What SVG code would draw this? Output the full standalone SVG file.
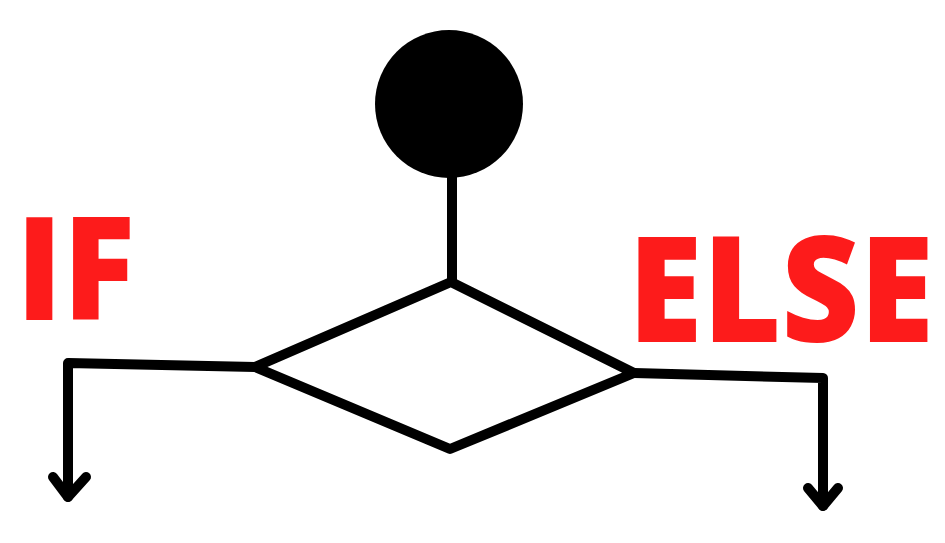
<svg xmlns="http://www.w3.org/2000/svg" width="945" height="543" viewBox="0 0 945 543">
<style>
.ln{fill:none;stroke:#000;stroke-width:10;stroke-linecap:round;stroke-linejoin:round}
.lbl{font-family:"Open Sans","Liberation Sans",sans-serif;font-weight:800;fill:#fd1b1b}
</style>
<rect width="945" height="543" fill="#fff"/>
<g id="start"><circle cx="449" cy="104" r="74" fill="#000"/></g>
<g id="decision"><polygon class="ln" points="451,282 255,367 450,449 634,373" fill="#fff"/></g>
<g id="connectors">
<line class="ln" x1="452" y1="176" x2="452" y2="282" stroke-linecap="butt"/>
<polyline class="ln" points="255,367 68,363 68,497"/>
<polyline class="ln" points="53,477 68,497 86,477"/>
<polyline class="ln" points="634,373 823,378 823,506"/>
<polyline class="ln" points="808,488 823,506 838,488"/>
</g>
<g id="labels">
<text class="lbl" x="16" y="320" font-size="143" textLength="119" lengthAdjust="spacingAndGlyphs">IF</text>
<text class="lbl" transform="translate(628,342) scale(1,1.1)" x="0" y="0" font-size="133" textLength="306" lengthAdjust="spacingAndGlyphs">ELSE</text>
</g>
</svg>
